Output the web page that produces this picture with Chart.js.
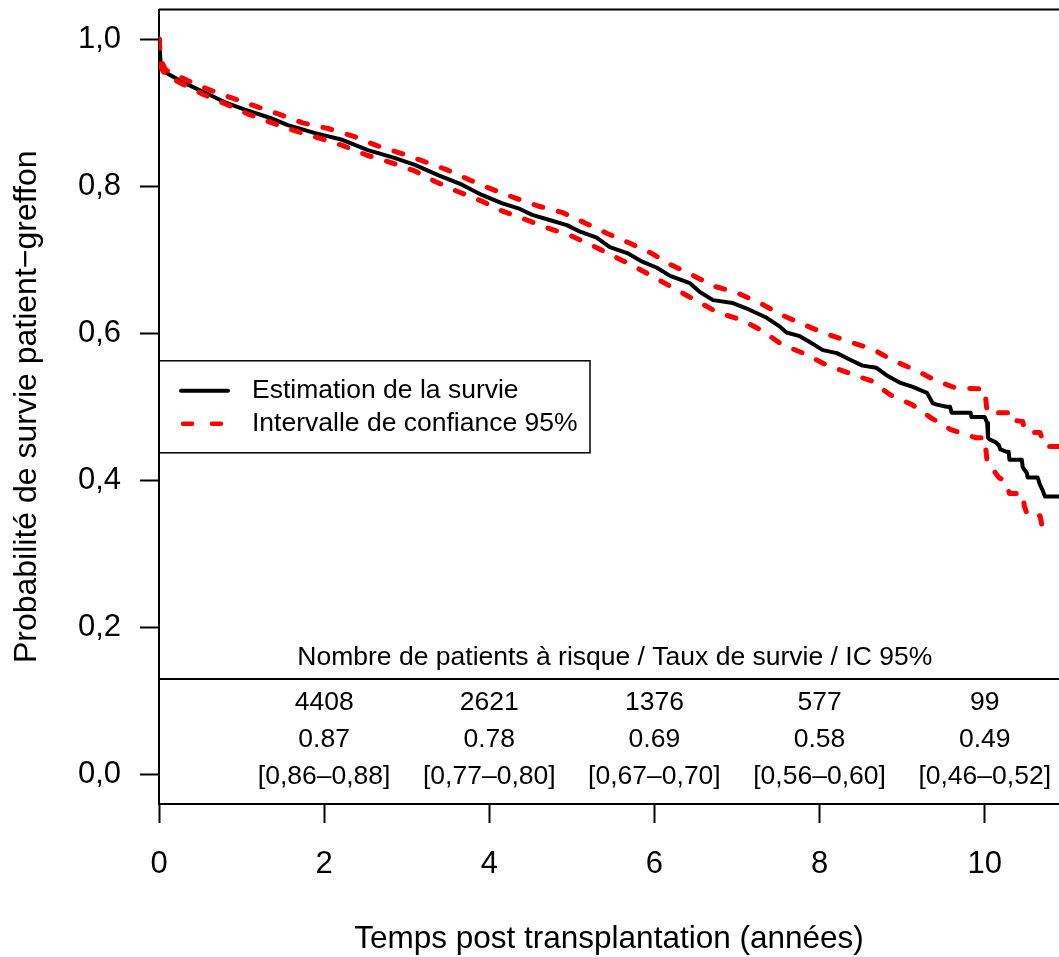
<!DOCTYPE html>
<html>
<head>
<meta charset="utf-8">
<script src="https://cdn.jsdelivr.net/npm/chart.js@4.4.1/dist/chart.umd.min.js"></script>
<style>
html,body{margin:0;padding:0;background:#fff;overflow:hidden}
</style>
</head>
<body>
<canvas id="km" width="1059" height="957"></canvas>
<script>
// courbe de Kaplan-Meier
const survTimes = [0,0.01,0.02,0.07,0.31,0.56,0.80,1.04,1.34,1.56,1.89,2.22,2.53,2.86,3.10,3.38,3.67,3.91,4.15,4.37,4.52,4.73,4.94,5.10,5.30,5.46,5.67,5.86,6.03,6.19,6.43,6.55,6.71,6.95,7.15,7.36,7.52,7.60,7.76,7.88,8.04,8.21,8.37,8.52,8.69,8.81,8.97,9.13,9.30,9.37,9.42,9.54,9.58,9.60,9.83,9.84,10.00,10.03,10.04,10.07,10.13,10.17,10.19,10.26,10.29,10.30,10.45,10.46,10.51,10.52,10.64,10.67,10.70,10.73,10.90]
const survValues = [1.0,0.985,0.967,0.955,0.940,0.927,0.914,0.904,0.893,0.883,0.872,0.863,0.849,0.838,0.829,0.815,0.802,0.788,0.777,0.769,0.761,0.754,0.747,0.738,0.730,0.717,0.709,0.697,0.689,0.678,0.668,0.656,0.645,0.641,0.632,0.621,0.609,0.601,0.596,0.588,0.577,0.573,0.564,0.556,0.553,0.543,0.533,0.527,0.519,0.505,0.503,0.500,0.500,0.492,0.492,0.486,0.486,0.478,0.458,0.455,0.452,0.448,0.442,0.439,0.439,0.428,0.428,0.418,0.410,0.404,0.404,0.394,0.387,0.378,0.378]

// bornes de l'IC 95%
const upperTimes = [0,0.01,0.02,0.08,0.34,0.61,0.88,1.16,1.45,1.74,2.06,2.35,2.64,2.92,3.20,3.49,3.77,4.03,4.31,4.59,4.89,5.16,5.42,5.69,5.96,6.20,6.46,6.72,7.00,7.28,7.52,7.74,8.06,8.35,8.65,8.89,9.16,9.42,9.64,10.00,10.03,10.30,10.31,10.46,10.48,10.53,10.67,10.70,10.73,10.90]
const upperValues = [1.0,0.988,0.972,0.958,0.944,0.931,0.920,0.909,0.898,0.886,0.878,0.868,0.855,0.845,0.834,0.822,0.808,0.796,0.784,0.773,0.764,0.750,0.736,0.723,0.709,0.693,0.679,0.664,0.655,0.641,0.626,0.615,0.600,0.589,0.578,0.563,0.550,0.535,0.526,0.524,0.492,0.492,0.482,0.480,0.470,0.465,0.465,0.455,0.446,0.446]
const lowerTimes = [0,0.01,0.02,0.08,0.28,0.53,0.80,1.08,1.37,1.65,1.95,2.23,2.52,2.81,3.09,3.35,3.61,3.90,4.16,4.43,4.71,5.00,5.25,5.52,5.77,6.03,6.27,6.51,6.77,7.06,7.31,7.54,7.82,8.08,8.35,8.63,8.86,9.12,9.35,9.59,9.89,10.00,10.03,10.10,10.17,10.26,10.30,10.46,10.48,10.52,10.67,10.70,10.73]
const lowerValues = [1.0,0.982,0.962,0.951,0.939,0.925,0.912,0.898,0.886,0.875,0.865,0.855,0.842,0.832,0.821,0.806,0.793,0.780,0.766,0.755,0.743,0.732,0.719,0.704,0.690,0.674,0.659,0.644,0.628,0.618,0.603,0.585,0.572,0.557,0.546,0.535,0.516,0.503,0.485,0.469,0.458,0.458,0.425,0.415,0.404,0.398,0.382,0.382,0.365,0.352,0.352,0.335,0.322]

// tableau des patients a risque
const riskTimes = [2,4,6,8,10]
const riskCounts = ["4408","2621","1376","577","99"]
const riskRates = ["0.87","0.78","0.69","0.58","0.49"]
const riskCI = ["[0,86\u20130,88]","[0,77\u20130,80]","[0,67\u20130,70]","[0,56\u20130,60]","[0,46\u20130,52]"]
const tableTitle = "Nombre de patients \u00e0 risque / Taux de survie / IC 95%"

const xTicks = [0,2,4,6,8,10]
const yTicks = [0,0.2,0.4,0.6,0.8,1.0]

const FONT = '"Liberation Sans", Arial, Helvetica, sans-serif'
const RED = '#ff0000'

function toXY(ts, vs) {
  return ts.map((t, i) => ({x: t, y: vs[i]}))
}

// cadre du haut, tableau et legende dessines a la main
const extras = {
  id: 'extras',
  afterDraw(chart) {
    const {ctx, chartArea: a, scales: {x, y}} = chart
    ctx.save()
    ctx.strokeStyle = '#000'
    ctx.lineWidth = 2
    ctx.beginPath()
    ctx.moveTo(a.left, a.top); ctx.lineTo(a.right, a.top)
    const yl = y.getPixelForValue(0.13)
    ctx.moveTo(a.left, yl); ctx.lineTo(a.right, yl)
    ctx.stroke()

    ctx.fillStyle = '#000'
    ctx.font = '26.5px ' + FONT
    ctx.textAlign = 'center'
    ctx.textBaseline = 'middle'
    ctx.fillText(tableTitle, x.getPixelForValue(5.52), y.getPixelForValue(0.16) + 1)
    riskTimes.forEach((t, i) => {
      const px = x.getPixelForValue(t)
      ctx.fillText(riskCounts[i], px, y.getPixelForValue(0.1) + 2)
      ctx.fillText(riskRates[i], px, y.getPixelForValue(0.05) + 2)
      ctx.fillText(riskCI[i], px, y.getPixelForValue(0) + 2)
    })

    // legende
    const cy = (a.top + a.bottom) / 2
    ctx.lineWidth = 1.5
    ctx.strokeRect(a.left, cy - 46, 431, 92)
    ctx.lineCap = 'round'
    ctx.lineWidth = 4
    ctx.beginPath()
    ctx.moveTo(a.left + 22, cy - 16); ctx.lineTo(a.left + 69, cy - 16)
    ctx.stroke()
    ctx.strokeStyle = RED
    ctx.lineWidth = 4.5
    ctx.setLineDash([9, 20])
    ctx.beginPath()
    ctx.moveTo(a.left + 24, cy + 17); ctx.lineTo(a.left + 69, cy + 17)
    ctx.stroke()
    ctx.setLineDash([])
    ctx.textAlign = 'left'
    ctx.fillText('Estimation de la survie', a.left + 93, cy - 16)
    ctx.fillText('Intervalle de confiance 95%', a.left + 93, cy + 17)
    ctx.restore()
  }
}

const dashed = {
  borderColor: RED, borderWidth: 5, borderDash: [9, 16],
  borderCapStyle: 'round', borderJoinStyle: 'round',
  pointRadius: 0, tension: 0, fill: false, order: 0
}

new Chart(document.getElementById('km'), {
  type: 'line',
  data: {
    datasets: [
      Object.assign({label: 'Intervalle de confiance 95%', data: toXY(upperTimes, upperValues)}, dashed),
      Object.assign({label: 'IC inf', data: toXY(lowerTimes, lowerValues)}, dashed),
      {
        label: 'Estimation de la survie',
        data: toXY(survTimes, survValues),
        borderColor: '#000', borderWidth: 4, borderJoinStyle: 'round',
        pointRadius: 0, tension: 0, fill: false, order: 1
      }
    ]
  },
  options: {
    responsive: false,
    animation: false,
    devicePixelRatio: 1,
    events: [],
    layout: {padding: {top: 9.6, right: 0, left: 0, bottom: 0}},
    plugins: {legend: {display: false}, tooltip: {enabled: false}},
    scales: {
      x: {
        type: 'linear', min: 0, max: 10.9,
        afterBuildTicks: s => { s.ticks = xTicks.map(v => ({value: v})) },
        afterFit: s => { s.height = 153; s.paddingLeft = 0; s.paddingRight = 0 },
        grid: {drawOnChartArea: false, tickLength: 19, tickColor: '#000', tickWidth: 2},
        border: {color: '#000', width: 2},
        ticks: {color: '#000', font: {family: FONT, size: 31}, padding: 23, maxRotation: 0, autoSkip: false,
          callback: v => String(v)},
        title: {display: true, text: 'Temps post transplantation (ann\u00e9es)', color: '#000',
          font: {family: FONT, size: 31.5, lineHeight: 1}, padding: {top: 0, bottom: 1.5}}
      },
      y: {
        min: -0.04, max: 1.04,
        afterBuildTicks: s => { s.ticks = yTicks.map(v => ({value: v})) },
        afterFit: s => { s.width = 159; s.paddingTop = 0; s.paddingBottom = 0 },
        grid: {drawOnChartArea: false, tickLength: 19, tickColor: '#000', tickWidth: 2},
        border: {color: '#000', width: 2},
        ticks: {color: '#000', font: {family: FONT, size: 31}, padding: 19,
          callback: v => v.toFixed(1).replace('.', ',')},
        title: {display: true, text: 'Probabilit\u00e9 de survie patient\u2212greffon', color: '#000',
          font: {family: FONT, size: 32, lineHeight: 1}, padding: {top: 11, bottom: 0}}
      }
    }
  },
  plugins: [extras]
})
</script>
</body>
</html>
